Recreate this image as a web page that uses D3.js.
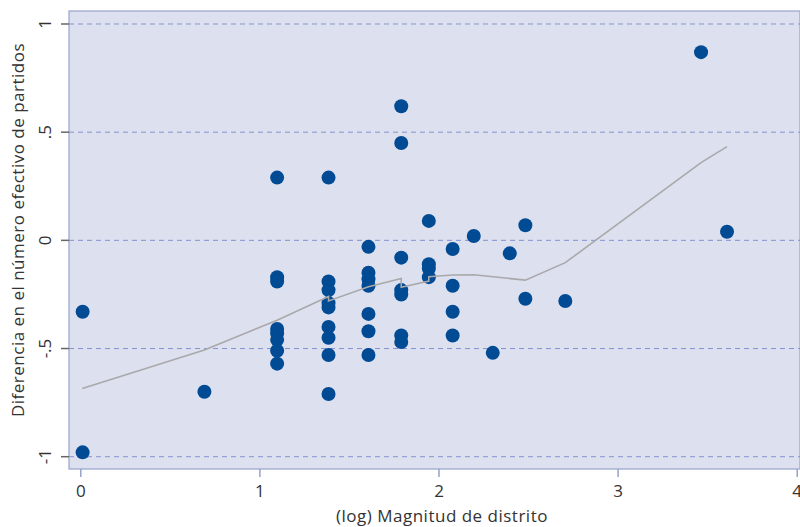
<!doctype html>
<html lang="es">
<head>
<meta charset="utf-8">
<title>Magnitud de distrito</title>
<script src="https://cdn.jsdelivr.net/npm/d3@7/dist/d3.min.js"></script>
<style>
  body { margin: 0; background: #fff; }
  svg text { font-family: "Open Sans", "Noto Sans", sans-serif; fill: #333; }
</style>
</head>
<body>
<div id="chart"></div>
<script>
// log district magnitude of each case and the difference in effective number of parties
var magX = [0.013, 0.013, 0.693,
  1.099, 1.099, 1.099, 1.099, 1.099, 1.099, 1.099, 1.099,
  1.386, 1.386, 1.386, 1.386, 1.386, 1.386, 1.386, 1.386, 1.386,
  1.609, 1.609, 1.609, 1.609, 1.609, 1.609, 1.609,
  1.792, 1.792, 1.792, 1.792, 1.792, 1.792, 1.792,
  1.946, 1.946, 1.946, 1.946,
  2.079, 2.079, 2.079, 2.079,
  2.197, 2.303, 2.398, 2.485, 2.485, 2.708, 3.466, 3.611];
var diffY = [-0.33, -0.98, -0.70,
  0.29, -0.17, -0.19, -0.41, -0.43, -0.46, -0.51, -0.57,
  0.29, -0.19, -0.23, -0.29, -0.31, -0.40, -0.45, -0.53, -0.71,
  -0.03, -0.15, -0.18, -0.21, -0.34, -0.42, -0.53,
  0.62, 0.45, -0.08, -0.23, -0.25, -0.44, -0.47,
  0.09, -0.11, -0.13, -0.17,
  -0.04, -0.21, -0.33, -0.44,
  0.02, -0.52, -0.06, 0.07, -0.27, -0.28, 0.87, 0.04];

// lowess smoother as drawn
var smoothX = [0.011, 0.693, 1.099, 1.386, 1.386, 1.609, 1.792, 1.792, 1.946, 1.946, 2.079, 2.197, 2.485, 2.708, 3.466, 3.611];
var smoothY = [-0.685, -0.507, -0.369, -0.26, -0.28, -0.214, -0.176, -0.217, -0.188, -0.168, -0.16, -0.159, -0.184, -0.103, 0.359, 0.433];

var xTicks = [0, 1, 2, 3, 4];
var yTicks = [-1, -0.5, 0, 0.5, 1];
var yTickLabels = ["-1", "-.5", "0", ".5", "1"];

var W = 800, H = 527;
var box = {left: 69, top: 11, right: 800, bottom: 469};

var x = d3.scaleLinear().domain([0, 4]).range([80.3, 796.7]);
var y = d3.scaleLinear().domain([-1, 1]).range([456.7, 24]);

var svg = d3.select("#chart").append("svg")
    .attr("width", W).attr("height", H);

svg.append("rect")
    .attr("x", box.left).attr("y", box.top)
    .attr("width", box.right - box.left).attr("height", box.bottom - box.top)
    .attr("fill", "#dde0ee")
    .attr("stroke", "#97a2cc").attr("stroke-width", 1.2);

// gridlines
svg.append("g").selectAll("line").data(yTicks).enter().append("line")
    .attr("x1", box.left).attr("x2", box.right)
    .attr("y1", function(d) { return y(d); }).attr("y2", function(d) { return y(d); })
    .attr("stroke", "#8593cf").attr("stroke-width", 1)
    .attr("stroke-dasharray", "5,4");

// y axis
var yAxis = d3.axisLeft(y).tickValues(yTicks).tickSize(8).tickPadding(10)
    .tickFormat(function(d, i) { return yTickLabels[i]; });
var gy = svg.append("g").attr("transform", "translate(" + box.left + ",0)").call(yAxis);
gy.select(".domain").remove();
gy.selectAll(".tick line").attr("stroke", "#666").attr("stroke-width", 1.5);
gy.selectAll(".tick text")
    .attr("transform", function(d) { return "rotate(-90," + (-18) + "," + y(d) + ")"; })
    .attr("x", -18).attr("dy", null)
    .attr("y", function(d) { return y(d); })
    .attr("text-anchor", "middle")
    .style("font-size", "17px").style("fill", "#333");
gy.selectAll(".tick").attr("transform", null);
gy.selectAll(".tick line").attr("y1", function(d) { return y(d); }).attr("y2", function(d) { return y(d); });

// x axis
var xAxis = d3.axisBottom(x).tickValues(xTicks).tickSize(8).tickPadding(8).tickFormat(d3.format("d"));
var gx = svg.append("g").attr("transform", "translate(0," + box.bottom + ")").call(xAxis);
gx.select(".domain").remove();
gx.selectAll(".tick line").attr("stroke", "#97a2cc").attr("stroke-width", 1.5);
gx.selectAll(".tick text").style("font-size", "17px").style("fill", "#333");

// axis titles
svg.append("text")
    .attr("x", 442).attr("y", 522)
    .attr("text-anchor", "middle")
    .style("font-size", "17px").style("letter-spacing", "0.5px")
    .text("(log) Magnitud de distrito");

svg.append("text")
    .attr("transform", "translate(24,230) rotate(-90)")
    .attr("text-anchor", "middle")
    .style("font-size", "17px").style("letter-spacing", "0.5px")
    .text("Diferencia en el número efectivo de partidos");

// points
svg.append("g").selectAll("circle").data(magX).enter().append("circle")
    .attr("cx", function(d) { return x(d); })
    .attr("cy", function(d, i) { return y(diffY[i]); })
    .attr("r", 7)
    .attr("fill", "#014a94");

// smoother
var line = d3.line()
    .x(function(d) { return x(d); })
    .y(function(d, i) { return y(smoothY[i]); });
svg.append("path")
    .datum(smoothX)
    .attr("d", line)
    .attr("fill", "none")
    .attr("stroke", "#a9a9ab")
    .attr("stroke-width", 1.6);
</script>
</body>
</html>
